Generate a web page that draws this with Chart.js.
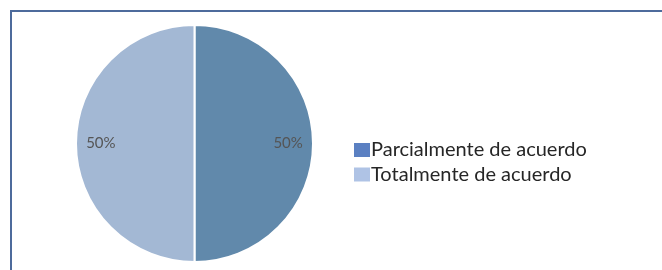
<!DOCTYPE html>
<html>
<head>
<meta charset="utf-8">
<script src="https://cdn.jsdelivr.net/npm/chart.js@4.4.1/dist/chart.umd.min.js"></script>
<style>
  html, body { margin: 0; padding: 0; background: #ffffff; }
  #wrap { position: relative; width: 662px; height: 270px; overflow: hidden; }
  #frame { position: absolute; left: 10px; top: 10px; width: 700px; height: 300px;
           border-left: 2px solid #4d6b9c; border-top: 2px solid #4d6b9c; box-sizing: border-box; }
  canvas { position: absolute; left: 0; top: 0; }
</style>
</head>
<body>
<div id="wrap">
  <div id="frame"></div>
  <canvas id="c" width="662" height="270"></canvas>
</div>
<script>
const categories = ["Parcialmente de acuerdo", "Totalmente de acuerdo"];
const values = [50, 50];
const valueLabels = ["50%", "50%"];
const sliceColors = ["#6189ab", "#a3b8d4"];
const legendColors = ["#5b80c2", "#afc3e5"];

const labelPlugin = {
  id: 'sliceLabels',
  afterDatasetsDraw(chart) {
    const ctx = chart.ctx;
    const meta = chart.getDatasetMeta(0);
    ctx.save();
    ctx.font = '15px "Lato", sans-serif';
    ctx.fillStyle = '#555555';
    ctx.textAlign = 'center';
    ctx.textBaseline = 'middle';
    meta.data.forEach((arc, i) => {
      const p = arc.getProps(['x', 'y', 'startAngle', 'endAngle', 'outerRadius'], true);
      const mid = (p.startAngle + p.endAngle) / 2;
      const r = p.outerRadius * 0.79;
      ctx.fillText(valueLabels[i], p.x + Math.cos(mid) * r, p.y + Math.sin(mid) * r);
    });
    ctx.restore();
  }
};

const legendPlugin = {
  id: 'customLegend',
  afterDraw(chart) {
    const ctx = chart.ctx;
    ctx.save();
    ctx.font = '20px "Lato", sans-serif';
    ctx.textBaseline = 'middle';
    ctx.textAlign = 'left';
    const x0 = 354, y0 = 150, dy = 24.5;
    categories.forEach((c, i) => {
      const y = y0 + i * dy;
      ctx.fillStyle = legendColors[i];
      ctx.fillRect(x0, y - 7, 16, 14);
      ctx.fillStyle = '#262626';
      ctx.fillText(c, x0 + 17, y);
    });
    ctx.restore();
  }
};

new Chart(document.getElementById('c'), {
  type: 'pie',
  data: {
    labels: categories,
    datasets: [{
      data: values,
      backgroundColor: sliceColors,
      borderColor: '#ffffff',
      borderWidth: 2
    }]
  },
  options: {
    responsive: false,
    animation: false,
    layout: { padding: { left: 75, right: 348, top: 23, bottom: 6 } },
    plugins: { legend: { display: false }, tooltip: { enabled: false } }
  },
  plugins: [labelPlugin, legendPlugin]
});
</script>
</body>
</html>
